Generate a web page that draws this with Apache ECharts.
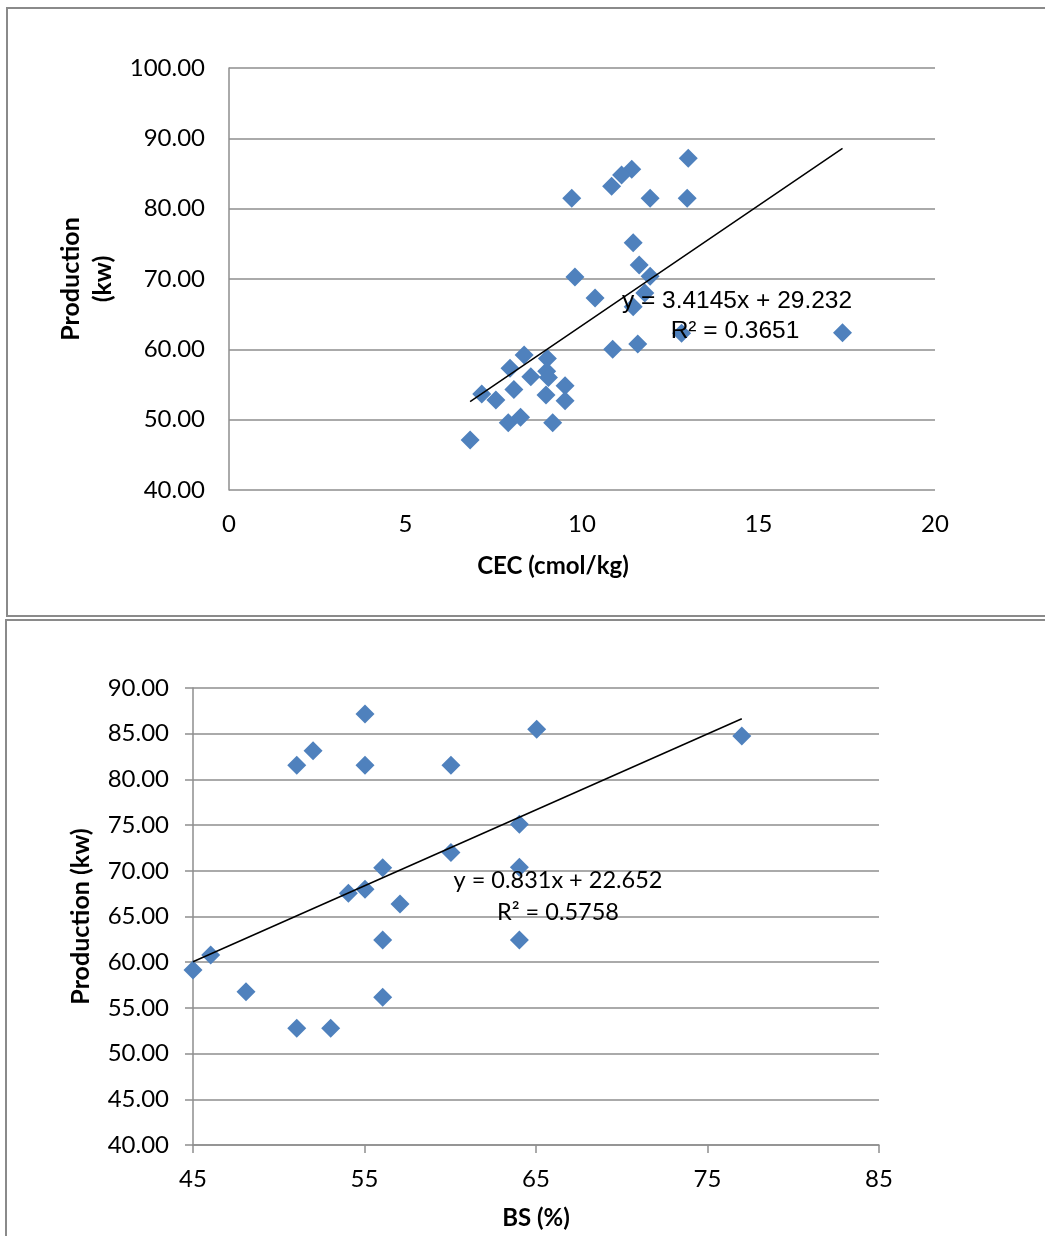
<!DOCTYPE html>
<html>
<head>
<meta charset="utf-8">
<script src="https://cdn.jsdelivr.net/npm/echarts@6/dist/echarts.min.js"></script>
<style>
  html, body { margin: 0; padding: 0; background: #fff; }
  #container { width: 1045px; height: 1236px; }
</style>
</head>
<body>
<div id="container"></div>
<script>
var dom = document.getElementById('container');
var myChart = echarts.init(dom, null, { renderer: 'canvas' });

// top chart: CEC vs production
var cecX = [13.01, 11.41, 11.12, 10.84, 9.71, 11.93, 12.98, 11.45, 11.62, 11.93, 9.80, 10.37,
    11.78, 11.45, 12.82, 17.38, 10.87, 11.58, 8.36, 9.02, 7.96, 8.55, 9.00, 9.05, 9.52, 8.07,
    7.16, 7.56, 8.98, 9.52, 7.91, 8.26, 9.17, 6.83];
var cecY = [87.16, 85.6, 84.8, 83.2, 81.47, 81.47, 81.47, 75.16, 72.0, 70.4, 70.3, 67.3,
    68.0, 66.06, 62.27, 62.37, 60.0, 60.76, 59.2, 58.7, 57.3, 56.1, 56.9, 56.0, 54.83, 54.3,
    53.65, 52.8, 53.5, 52.7, 49.57, 50.33, 49.57, 47.1];
var cecTrend = [3.4145, 29.232]; // slope, intercept
var cecXTicks = [0, 20, 5];      // min, max, interval
var cecYTicks = [40, 100, 10];

// bottom chart: BS vs production
var bsX = [55.03, 65.04, 52.0, 51.05, 55.03, 60.04, 64.03, 60.04, 56.06, 64.03, 54.06, 55.03,
    57.07, 56.06, 64.03, 46.03, 45.0, 48.09, 56.06, 51.05, 53.03, 77.0];
var bsY = [87.16, 85.5, 83.14, 81.54, 81.54, 81.54, 75.1, 72.0, 70.34, 70.38, 67.54, 67.98,
    66.37, 62.43, 62.43, 60.79, 59.15, 56.77, 56.16, 52.77, 52.77, 84.75];
var bsTrend = [0.831, 22.652];
var bsXTicks = [45, 85, 10];
var bsYTicks = [40, 90, 5];

var tickFont = 'Lato, "Open Sans", sans-serif';
var gridColor = '#8e8e8e';
var dotColor = '#4f81bd';

function pairs(xs, ys) {
    return xs.map(function (x, i) { return [x, ys[i]]; });
}
function trendLine(xs, t) {
    var lo = Math.min.apply(null, xs), hi = Math.max.apply(null, xs);
    return [[lo, t[0] * lo + t[1]], [hi, t[0] * hi + t[1]]];
}

function xAxisOf(idx, ticks, name, showTicks) {
    return {
        type: 'value', gridIndex: idx,
        min: ticks[0], max: ticks[1], interval: ticks[2],
        name: name, nameLocation: 'middle', nameGap: 61,
        nameTextStyle: { fontFamily: tickFont, fontSize: 24, fontWeight: 'bold', color: '#000' },
        axisLine: { show: idx === 1, lineStyle: { color: gridColor, width: 1.5 } },
        axisTick: { show: showTicks, inside: false, length: 8, lineStyle: { color: gridColor, width: 1.5 } },
        axisLabel: { margin: 22, fontFamily: tickFont, fontSize: 24, color: '#000' },
        splitLine: { show: false }
    };
}
function yAxisOf(idx, ticks, name, gap, showTicks) {
    return {
        type: 'value', gridIndex: idx,
        min: ticks[0], max: ticks[1], interval: ticks[2],
        name: name, nameLocation: 'middle', nameGap: gap,
        nameTextStyle: { fontFamily: tickFont, fontSize: 25, fontWeight: 'bold', color: '#000', lineHeight: 32 },
        axisLine: { show: true, lineStyle: { color: gridColor, width: 1.5 } },
        axisTick: { show: showTicks, length: 8, lineStyle: { color: gridColor, width: 1.5 } },
        axisLabel: {
            margin: 24, fontFamily: tickFont, fontSize: 24, color: '#000',
            formatter: function (v) { return v.toFixed(2); }
        },
        splitLine: { show: true, lineStyle: { color: gridColor, width: 1.5 } }
    };
}

var topX = xAxisOf(0, cecXTicks, '', false);
topX.name = '';

option = {
    animation: false,
    backgroundColor: '#fff',
    grid: [
        { left: 229, top: 68, width: 706, height: 422 },
        { left: 193, top: 688, width: 686, height: 457 }
    ],
    xAxis: [
        topX,
        xAxisOf(1, bsXTicks, 'BS (%)', true)
    ],
    yAxis: [
        yAxisOf(0, cecYTicks, 'Production\n(kw)', 106, false),
        yAxisOf(1, bsYTicks, 'Production (kw)', 90, true)
    ],
    series: [
        {
            type: 'scatter', xAxisIndex: 0, yAxisIndex: 0,
            symbol: 'diamond', symbolSize: 19,
            itemStyle: { color: dotColor, opacity: 1 },
            data: pairs(cecX, cecY), z: 2
        },
        {
            type: 'line', xAxisIndex: 0, yAxisIndex: 0,
            data: trendLine(cecX, cecTrend),
            symbol: 'none', lineStyle: { color: '#000', width: 1.5 }, z: 3
        },
        {
            type: 'scatter', xAxisIndex: 1, yAxisIndex: 1,
            symbol: 'diamond', symbolSize: 19,
            itemStyle: { color: dotColor, opacity: 1 },
            data: pairs(bsX, bsY), z: 2
        },
        {
            type: 'line', xAxisIndex: 1, yAxisIndex: 1,
            data: trendLine(bsX, bsTrend),
            symbol: 'none', lineStyle: { color: '#000', width: 1.5 }, z: 3
        }
    ],
    graphic: [
        // chart frames
        { type: 'rect', shape: { x: 7, y: 8, width: 1060, height: 608 },
          style: { fill: 'none', stroke: '#8a8a8a', lineWidth: 2 }, z: 0, silent: true },
        { type: 'rect', shape: { x: 6, y: 620, width: 1060, height: 640 },
          style: { fill: 'none', stroke: '#8a8a8a', lineWidth: 2 }, z: 0, silent: true },
        // top x axis title sits left of the plot centre
        { type: 'text', x: 553, y: 566, z: 100,
          style: { text: 'CEC (cmol/kg)', fontFamily: tickFont, fontSize: 24, fontWeight: 'bold',
                   fill: '#000', align: 'center', verticalAlign: 'middle' } },
        // trendline equations
        { type: 'text', x: 737, y: 301, z: 100,
          style: { text: 'y = 3.4145x + 29.232', fontFamily: '"Liberation Sans", Arial, sans-serif',
                   fontSize: 24.5, fill: '#000', align: 'center', verticalAlign: 'middle' } },
        { type: 'text', x: 735, y: 331, z: 100,
          style: { text: 'R² = 0.3651', fontFamily: '"Liberation Sans", Arial, sans-serif',
                   fontSize: 24.5, fill: '#000', align: 'center', verticalAlign: 'middle' } },
        { type: 'text', x: 558, y: 880, z: 100,
          style: { text: 'y = 0.831x + 22.652', fontFamily: tickFont,
                   fontSize: 23.5, fill: '#000', align: 'center', verticalAlign: 'middle' } },
        { type: 'text', x: 558, y: 912, z: 100,
          style: { text: 'R² = 0.5758', fontFamily: tickFont,
                   fontSize: 23.5, fill: '#000', align: 'center', verticalAlign: 'middle' } }
    ]
};

if (option && typeof option === 'object') {
    myChart.setOption(option);
}

window.addEventListener('resize', myChart.resize);
</script>
</body>
</html>
